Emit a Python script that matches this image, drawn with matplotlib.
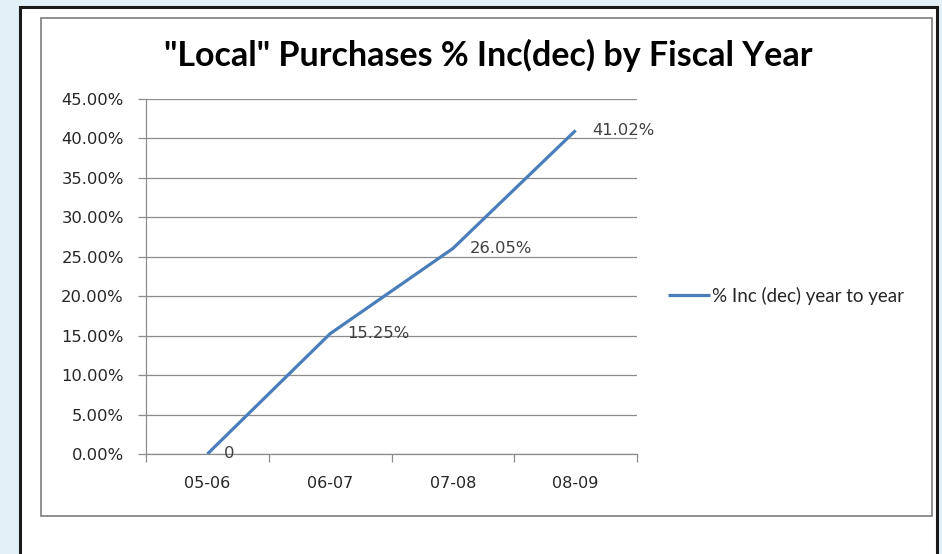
import matplotlib
matplotlib.use("Agg")
import matplotlib.pyplot as plt
from matplotlib.patches import Rectangle
from matplotlib.ticker import FuncFormatter, FixedLocator

categories = ["05-06", "06-07", "07-08", "08-09"]
values = [0.0, 15.25, 26.05, 41.02]
point_labels = ["0", "15.25%", "26.05%", "41.02%"]
series_name = "% Inc (dec) year to year"
title = '"Local" Purchases % Inc(dec) by Fiscal Year'
yticks = [0, 5, 10, 15, 20, 25, 30, 35, 40, 45]

W, H = 942, 554
fig = plt.figure(figsize=(W / 100, H / 100), dpi=100)
fig.patch.set_facecolor("#E2F0F7")

# outer black frame (white interior)
fig.patches.append(Rectangle((20 / W, -0.05), (937 - 20) / W, 1.05 - 7 / H,
                             transform=fig.transFigure, facecolor="white",
                             edgecolor="#1a1a1a", linewidth=2.2, zorder=-2))
# inner gray chart frame
fig.patches.append(Rectangle((41 / W, 1 - 516 / H), (932 - 41) / W, (516 - 18) / H,
                             transform=fig.transFigure, facecolor="white",
                             edgecolor="#878787", linewidth=1.3, zorder=-1))

ax = fig.add_axes([146 / W, 1 - 454 / H, (637 - 146) / W, (454 - 99) / H])
ax.set_zorder(2)
ax.set_facecolor("none")
x = list(range(len(categories)))
line, = ax.plot(x, values, color="#4A7EBB", linewidth=2.3, label=series_name,
                solid_capstyle="butt", zorder=3)

for xi, yi, lab in zip(x, values, point_labels):
    ax.annotate(lab, (xi, yi), xytext=(12, 0), textcoords="offset points",
                ha="left", va="center", fontsize=11.8, color="#404040",
                family="DejaVu Sans", zorder=4)

ax.set_xlim(-0.5, len(categories) - 0.5)
ax.set_ylim(0, 45)
ax.set_yticks(yticks)
ax.yaxis.set_major_formatter(FuncFormatter(lambda v, p: f"{v:.2f}%"))
ax.grid(axis="y", color="#8C8C8C", linewidth=0.9)
ax.set_axisbelow(True)

ax.set_xticks(x)
ax.set_xticklabels(categories)
ax.xaxis.set_minor_locator(FixedLocator([i - 0.5 for i in range(len(categories) + 1)]))
ax.tick_params(axis="x", which="major", length=0, pad=16, labelsize=11.5,
               labelcolor="#262626")
ax.tick_params(axis="x", which="minor", length=6, color="#8C8C8C", width=0.9)
ax.tick_params(axis="y", length=6, color="#8C8C8C", width=0.9, pad=10,
               labelsize=11.8, labelcolor="#262626")
for lab in ax.get_xticklabels() + ax.get_yticklabels():
    lab.set_family("DejaVu Sans")

for s in ["top", "right"]:
    ax.spines[s].set_visible(False)
for s in ["left", "bottom"]:
    ax.spines[s].set_color("#8C8C8C")
    ax.spines[s].set_linewidth(0.9)

fig.text(488 / W, 1 - 55 / H, title, ha="center", va="center",
         fontsize=24.5, fontweight="bold", family="Lato", color="black", zorder=3)

leg = fig.legend(handles=[line], loc="center left",
                 bbox_to_anchor=(659 / W, 1 - 296 / H), frameon=False,
                 handlelength=2.2, handletextpad=0.1, borderpad=0,
                 prop={"family": "Lato", "size": 13.5})
leg.set_zorder(3)
for t in leg.get_texts():
    t.set_color("#262626")

fig.savefig("out.png", dpi=100, facecolor=fig.get_facecolor())
